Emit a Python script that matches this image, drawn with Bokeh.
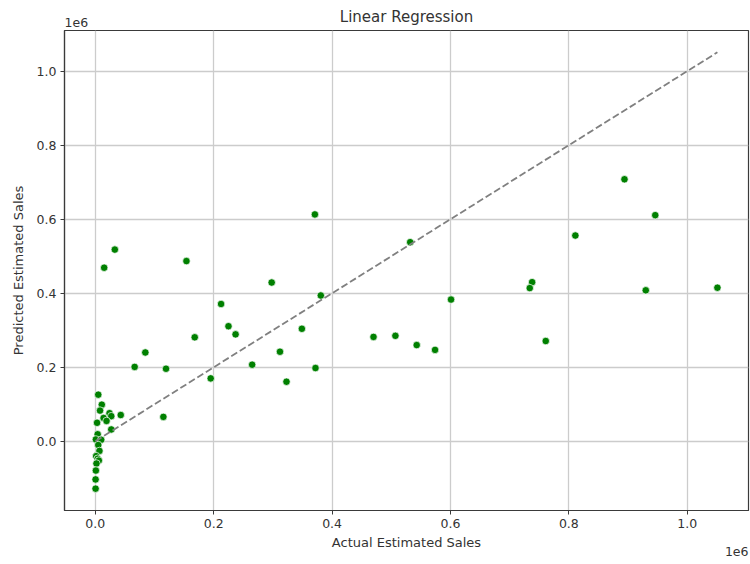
from bokeh.plotting import figure
from bokeh.models import Range1d, FixedTicker, CustomJSTickFormatter, Label, ColumnDataSource
from bokeh.embed import file_html
from bokeh.resources import INLINE

# ---- data (units: sales) ----
actual = [371000, 33000, 15000, 154000, 298000, 381000, 212500, 225000, 237000, 349000,
          168000, 84500, 312000, 66500, 119500, 265000, 372000, 195000, 323000, 532000,
          601000, 470000, 507000, 543000, 574000, 894000, 946000, 811000, 738000, 734000,
          930000, 1051000, 761000, 115000,
          5000, 11000, 8000, 24000, 27000, 14000, 19000, 43000, 3000, 27000,
          4000, 1000, 10000, 5000, 7000, 1500, 4000, 6000, 2000, 1000, 500, 500]
predicted = [613000, 518000, 469000, 487000, 429000, 394000, 371000, 311000, 289000, 304000,
             281000, 240000, 242000, 201000, 196000, 207000, 198000, 170000, 161000, 538000,
             383000, 282000, 285000, 260000, 247000, 708000, 611000, 556000, 430000, 414000,
             408000, 415000, 271000, 66000,
             126000, 99000, 83000, 76000, 68000, 63000, 55000, 71000, 50000, 32000,
             19000, 5000, 4000, -10000, -26000, -40000, -47000, -52000, -60000, -79000,
             -103000, -128000]

x_ticks = [0, 200000, 400000, 600000, 800000, 1000000]
y_ticks = [0, 200000, 400000, 600000, 800000, 1000000]

title_text = "Linear Regression"
x_label = "Actual Estimated Sales"
y_label = "Predicted Estimated Sales"
offset_text = "1e6"

FONT = "DejaVu Sans"
TXT = "#333333"

lo, hi = min(actual), max(actual)
padx = 0.05 * (hi - lo)
ymin = min(min(predicted), lo)
ymax = max(max(predicted), hi)
pady = 0.05 * (ymax - ymin)

p = figure(width=750, height=564, output_backend="svg", toolbar_location=None,
           x_range=Range1d(lo - padx, hi + padx),
           y_range=Range1d(ymin - pady, ymax + pady),
           min_border_left=64, min_border_right=2, min_border_top=30, min_border_bottom=54)
p.title = None
p.background_fill_color = "white"
p.border_fill_color = "white"
p.outline_line_color = "#3a3a3a"
p.outline_line_width = 1.2

p.grid.grid_line_color = "#cccccc"
p.grid.grid_line_width = 1.3

for ax in (p.xaxis[0], p.yaxis[0]):
    ax.formatter = CustomJSTickFormatter(code="return (tick/1e6).toFixed(1);")
    ax.axis_line_color = "#3a3a3a"
    ax.axis_line_width = 1.2
    ax.major_tick_line_color = "#3a3a3a"
    ax.major_tick_out = 4
    ax.major_tick_in = 0
    ax.minor_tick_out = 0
    ax.minor_tick_in = 0
    ax.major_label_text_font = FONT
    ax.major_label_text_font_size = "12.5px"
    ax.major_label_text_color = TXT
    ax.major_label_standoff = 4
    ax.axis_label_text_font = FONT
    ax.axis_label_text_font_size = "13px"
    ax.axis_label_text_font_style = "normal"
    ax.axis_label_text_color = TXT

p.xaxis.ticker = FixedTicker(ticks=x_ticks)
p.yaxis.ticker = FixedTicker(ticks=y_ticks)
p.xaxis.axis_label = x_label
p.yaxis.axis_label = y_label
p.xaxis.axis_label_standoff = 4
p.yaxis.axis_label_standoff = 8

src = ColumnDataSource(dict(x=actual, y=predicted))
p.scatter("x", "y", source=src, size=7.5, fill_color="green", line_color="white",
          line_width=0.7)
p.line([lo, hi], [lo, hi], line_color="gray", line_dash="7 3", line_width=1.8)

p.add_layout(Label(x=406, y=16, x_units="canvas", y_units="canvas", text=title_text,
                   text_align="center", text_baseline="middle", text_font=FONT,
                   text_font_size="15px", text_color=TXT), "above")
p.add_layout(Label(x=64, y=26, x_units="canvas", y_units="canvas", text=offset_text,
                   text_align="left", text_baseline="bottom", text_font=FONT,
                   text_font_size="12.5px", text_color=TXT), "above")
p.add_layout(Label(x=748, y=551, x_units="canvas", y_units="canvas", text=offset_text,
                   text_align="right", text_baseline="middle", text_font=FONT,
                   text_font_size="12.5px", text_color=TXT), "below")

open("out.html", "w").write(file_html(p, INLINE))
